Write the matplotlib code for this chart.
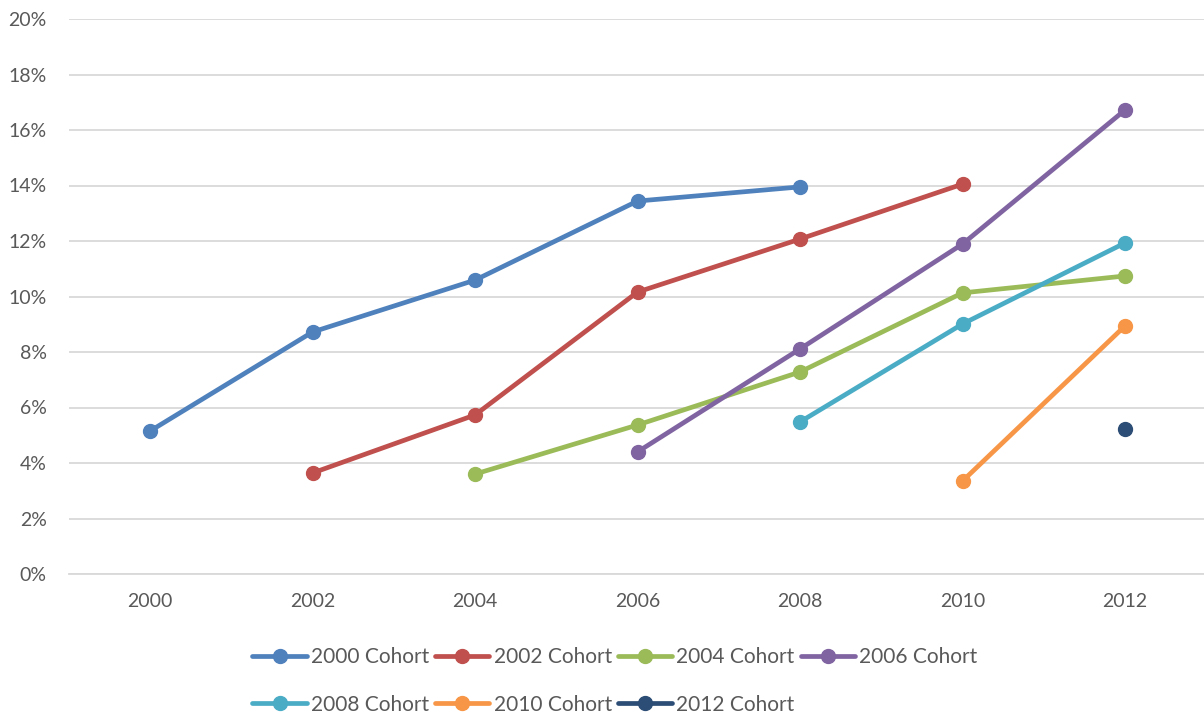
import matplotlib
matplotlib.use("Agg")
import matplotlib.pyplot as plt
from matplotlib.ticker import FuncFormatter

plt.rcParams['font.family'] = ['Lato', 'DejaVu Sans']

years = ['2000', '2002', '2004', '2006', '2008', '2010', '2012']

# value per year for each cohort (None = no data)
c2000 = [5.15, 8.72, 10.59, 13.44, 13.95, None, None]
c2002 = [None, 3.64, 5.73, 10.16, 12.07, 14.05, None]
c2004 = [None, None, 3.60, 5.37, 7.28, 10.13, 10.74]
c2006 = [None, None, None, 4.40, 8.11, 11.89, 16.72]
c2008 = [None, None, None, None, 5.48, 9.01, 11.93]
c2010 = [None, None, None, None, None, 3.35, 8.94]
c2012 = [None, None, None, None, None, None, 5.23]

series = [c2000, c2002, c2004, c2006, c2008, c2010, c2012]
names = ['2000 Cohort', '2002 Cohort', '2004 Cohort', '2006 Cohort',
         '2008 Cohort', '2010 Cohort', '2012 Cohort']
colors = ['#4F81BD', '#C0504D', '#9BBB59', '#8064A2', '#4BACC6', '#F79646', '#2C4D75']

fig = plt.figure(figsize=(12.04, 7.17), dpi=100)
ax = fig.add_axes([68.75 / 1204, 143 / 717, 1137.5 / 1204, 555 / 717])

handles = []
for vals, name, col in zip(series, names, colors):
    xs = [i for i, v in enumerate(vals) if v is not None]
    ys = [v for v in vals if v is not None]
    h, = ax.plot(xs, ys, color=col, lw=3.4, marker='o', ms=10,
                 label=name, solid_capstyle='round', clip_on=False)
    handles.append(h)

ax.set_xlim(-0.5, 6.5)
ax.set_ylim(0, 20)
ax.set_yticks(range(0, 21, 2))
ax.yaxis.set_major_formatter(FuncFormatter(lambda v, p: '%d%%' % v))
ax.set_xticks(range(len(years)))
ax.set_xticklabels(years)
ax.grid(axis='y', color='#D9D9D9', lw=1.3)
ax.set_axisbelow(True)
for s in ['top', 'right', 'left']:
    ax.spines[s].set_visible(False)
ax.spines['bottom'].set_color('#D9D9D9')
ax.spines['bottom'].set_linewidth(1.3)
ax.tick_params(length=0, labelsize=14, labelcolor='#595959')
ax.tick_params(axis='x', pad=14)
ax.tick_params(axis='y', pad=16)

order = [0, 4, 1, 5, 2, 6, 3]
fig.legend([handles[i] for i in order], [names[i] for i in order],
           ncol=4, loc='center', bbox_to_anchor=(615 / 1204, 1 - 681 / 717),
           frameon=False, fontsize=15, labelcolor='#595959',
           handlelength=2.6, handletextpad=0.2, columnspacing=0.3,
           labelspacing=1.3)

fig.savefig('out.png', dpi=100)
